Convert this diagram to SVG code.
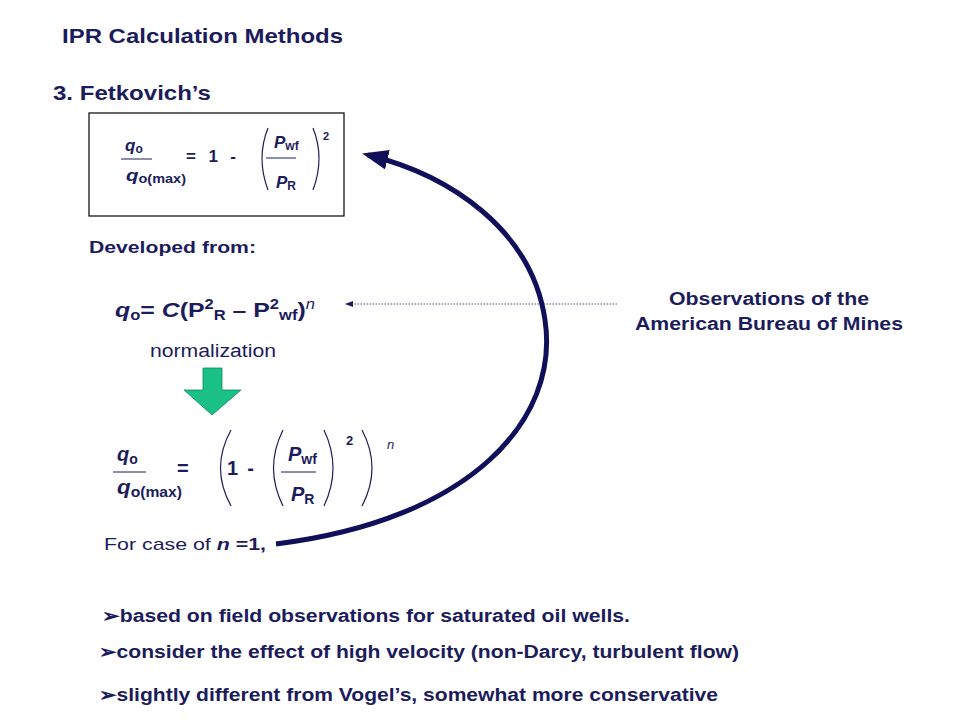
<svg xmlns="http://www.w3.org/2000/svg" width="960" height="720" viewBox="0 0 960 720">
<style>
text{font-family:"Liberation Sans",Arial,sans-serif;font-weight:bold;fill:#1c1c5c}
.n{font-weight:normal}
.p{fill:none;stroke:#1c1c5c;stroke-width:1.2}
.l{stroke:#1c1c5c;stroke-width:1}
</style>
<defs>
<marker id="big" markerWidth="26" markerHeight="20" refX="20" refY="10" orient="auto" markerUnits="userSpaceOnUse"><path d="M0,0 L26,10 L0,20 z" fill="#10105a"/></marker>
<marker id="sm" markerWidth="8" markerHeight="6" refX="7" refY="3" orient="auto" markerUnits="userSpaceOnUse"><path d="M0,0 L8,3 L0,6 z" fill="#1c1c5c"/></marker>
</defs>
<rect width="960" height="720" fill="#fff"/>
<text x="62" y="43" font-size="21" textLength="281" lengthAdjust="spacingAndGlyphs">IPR Calculation Methods</text>
<text x="53" y="100" font-size="21" textLength="158" lengthAdjust="spacingAndGlyphs">3. Fetkovich’s</text>
<g id="eq1">
<rect x="89" y="113" width="255" height="103" fill="none" stroke="#000" stroke-width="1.2"/>
<text x="125" y="151" font-size="17" font-style="italic">q<tspan font-size="12" font-style="normal" dy="2">o</tspan></text>
<line class="l" x1="121" y1="159" x2="152" y2="159"/>
<text x="126" y="181" font-size="17" font-style="italic" textLength="60" lengthAdjust="spacingAndGlyphs">q<tspan font-size="12" font-style="normal" dy="2">o(max)</tspan></text>
<text x="186" y="162" font-size="17" textLength="50" lengthAdjust="spacing">=  1 -</text>
<path class="p" d="M268,128 Q256,158 268,190"/>
<text x="274" y="148" font-size="17" font-style="italic">P<tspan font-size="12" font-style="normal" dy="2">wf</tspan></text>
<line class="l" x1="266" y1="158" x2="296" y2="158"/>
<text x="276" y="188" font-size="17" font-style="italic">P<tspan font-size="12" font-style="normal" dy="2">R</tspan></text>
<path class="p" d="M313,128 Q325,158 313,190"/>
<text x="323" y="140" font-size="11">2</text>
</g>
<text x="89" y="253" font-size="17" textLength="167" lengthAdjust="spacingAndGlyphs">Developed from:</text>
<g id="eq2">
<text x="115" y="317" font-size="21" textLength="200" lengthAdjust="spacingAndGlyphs"><tspan font-style="italic">q</tspan><tspan font-size="14" dy="3">o</tspan><tspan dy="-3">= </tspan><tspan font-style="italic">C</tspan>(P<tspan font-size="14" dy="-8">2</tspan><tspan font-size="14" dy="11">R</tspan><tspan dy="-3"> – P</tspan><tspan font-size="14" dy="-8">2</tspan><tspan font-size="14" dy="11">wf</tspan><tspan dy="-3">)</tspan><tspan font-size="14" font-style="italic" font-weight="normal" dy="-8">n</tspan></text>
</g>
<text x="150" y="357" font-size="18" class="n" textLength="126" lengthAdjust="spacingAndGlyphs">normalization</text>
<g id="greenarrow"><path d="M203,368 L222,368 L222,390 L241,390 L212,415 L184,390 L203,390 z" fill="#1bc086" stroke="#0d8a5c" stroke-width="0.8"/></g>
<g id="eq3">
<text x="117" y="461" font-size="20" font-style="italic">q<tspan font-size="14" font-style="normal" dy="3">o</tspan></text>
<line class="l" x1="113" y1="472" x2="146" y2="472"/>
<text x="117" y="494" font-size="20" font-style="italic" textLength="65" lengthAdjust="spacingAndGlyphs">q<tspan font-size="14" font-style="normal" dy="3">o(max)</tspan></text>
<text x="177" y="475" font-size="20">=</text>
<path class="p" d="M231,430 Q210,468 231,506"/>
<text x="227" y="475" font-size="20" textLength="27" lengthAdjust="spacing">1 -</text>
<path class="p" d="M283,430 Q264,468 283,506"/>
<text x="288" y="461" font-size="20" font-style="italic">P<tspan font-size="14" font-style="normal" dy="3">wf</tspan></text>
<line class="l" x1="281" y1="472" x2="316" y2="472"/>
<text x="291" y="501" font-size="20" font-style="italic">P<tspan font-size="14" font-style="normal" dy="3">R</tspan></text>
<path class="p" d="M324,430 Q342,468 324,506"/>
<text x="346" y="445" font-size="13">2</text>
<path class="p" d="M362,430 Q382,468 362,506"/>
<text x="387" y="449" font-size="13" font-style="italic" class="n">n</text>
</g>
<text x="104" y="550" font-size="17" class="n" textLength="162" lengthAdjust="spacingAndGlyphs">For case of <tspan font-weight="bold" font-style="italic">n</tspan><tspan font-weight="bold"> =1,</tspan></text>
<g id="obs">
<text x="769" y="305" font-size="18" text-anchor="middle" textLength="200" lengthAdjust="spacingAndGlyphs">Observations of the</text>
<text x="769" y="330" font-size="18" text-anchor="middle" textLength="268" lengthAdjust="spacingAndGlyphs">American Bureau of Mines</text>
</g>
<g id="connectors">
<line x1="617" y1="304" x2="346" y2="304" stroke="#1c1c5c" stroke-width="0.8" stroke-dasharray="1.5,1.5" marker-end="url(#sm)"/>
<path d="M276,544 C470,520 560,420 545,320 C532,230 450,175 368,155" fill="none" stroke="#10105a" stroke-width="5" marker-end="url(#big)"/>
</g>
<g font-size="18">
<text x="102" y="622" textLength="528" lengthAdjust="spacingAndGlyphs">➢based on field observations for saturated oil wells.</text>
<text x="99" y="658" textLength="640" lengthAdjust="spacingAndGlyphs">➢consider the effect of high velocity (non-Darcy, turbulent flow)</text>
<text x="99" y="701" textLength="619" lengthAdjust="spacingAndGlyphs">➢slightly different from Vogel’s, somewhat more conservative</text>
</g>
</svg>
